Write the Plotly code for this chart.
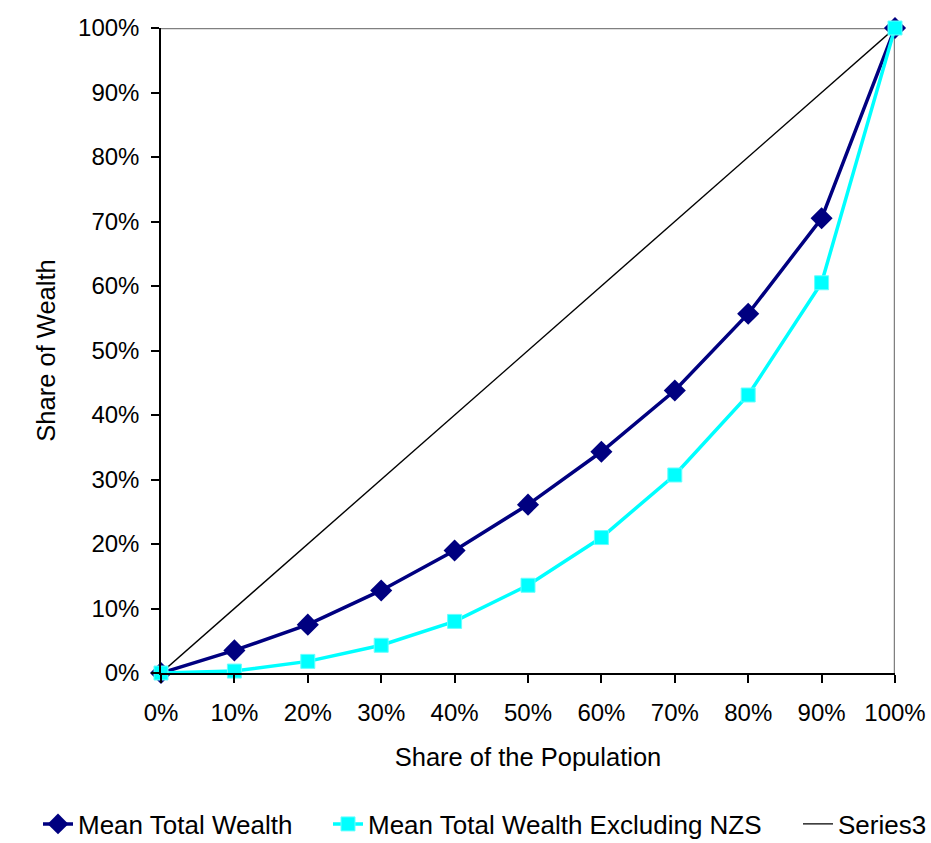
import plotly.graph_objects as go

# Share of the population (%) at each decile
population_share = [0, 10, 20, 30, 40, 50, 60, 70, 80, 90, 100]

# Cumulative share of wealth (%)
mean_total_wealth = [0, 3.5, 7.5, 12.8, 19.0, 26.1, 34.3, 43.8, 55.7, 70.5, 100]
mean_wealth_excl_nzs = [0, 0.3, 1.8, 4.3, 8.0, 13.6, 21.0, 30.7, 43.1, 60.5, 100]
series3 = [0, 10, 20, 30, 40, 50, 60, 70, 80, 90, 100]

tick_vals = [0, 10, 20, 30, 40, 50, 60, 70, 80, 90, 100]
tick_text = ["0%", "10%", "20%", "30%", "40%", "50%", "60%", "70%", "80%", "90%", "100%"]

FONT = "Liberation Sans, Arial, sans-serif"
W, H = 931, 843

fig = go.Figure()

fig.add_trace(go.Scatter(
    x=population_share, y=series3, name="Series3", mode="lines",
    line=dict(color="black", width=1.4), cliponaxis=False, legend="legend3",
))
fig.add_trace(go.Scatter(
    x=population_share, y=mean_total_wealth, name="Mean Total Wealth",
    mode="lines+markers",
    line=dict(color="#000080", width=3.5),
    marker=dict(symbol="diamond", size=17, color="#000080",
                line=dict(color="#000080", width=0)),
    cliponaxis=False, legend="legend",
))
fig.add_trace(go.Scatter(
    x=population_share, y=mean_wealth_excl_nzs, name="Mean Total Wealth Excluding NZS",
    mode="lines+markers",
    line=dict(color="#00FFFF", width=3.5),
    marker=dict(symbol="square", size=14, color="#00FFFF",
                line=dict(color="#66FFFF", width=1)),
    cliponaxis=False, legend="legend2",
))

# grey frame on the top and right of the plot area
fig.add_shape(type="line", xref="x", yref="y", x0=0, x1=100, y0=100, y1=100,
              line=dict(color="#808080", width=2.5), layer="below")
fig.add_shape(type="line", xref="x", yref="y", x0=100, x1=100, y0=0, y1=100,
              line=dict(color="#808080", width=2.5), layer="below")

axis_common = dict(
    range=[0, 100], tickmode="array", tickvals=tick_vals, ticktext=tick_text,
    showgrid=False, zeroline=False, showline=True, linecolor="black", linewidth=1.5,
    ticks="outside", ticklen=8, tickwidth=1.5, tickcolor="black",
    tickfont=dict(family=FONT, size=24, color="black"),
)


def legend_at(left_px):
    return dict(orientation="h", x=left_px / W, xanchor="left", xref="container",
                y=1 - 824 / H, yanchor="middle", yref="container",
                font=dict(family=FONT, size=26, color="black"),
                bgcolor="rgba(0,0,0,0)")


fig.update_layout(
    width=W, height=H,
    margin=dict(l=161, r=36, t=28, b=170, autoexpand=False),
    paper_bgcolor="white", plot_bgcolor="white",
    font=dict(family=FONT, color="black"),
    xaxis=dict(**axis_common, ticklabelstandoff=9,
               title=dict(text="Share of the Population",
                          font=dict(family=FONT, size=25.5), standoff=24)),
    yaxis=dict(**axis_common, ticklabelstandoff=7,
               title=dict(text="Share of Wealth",
                          font=dict(family=FONT, size=25.5), standoff=15)),
    legend=legend_at(38),
    legend2=legend_at(328),
    legend3=legend_at(798),
    showlegend=True,
)

fig.write_html("out.html")
